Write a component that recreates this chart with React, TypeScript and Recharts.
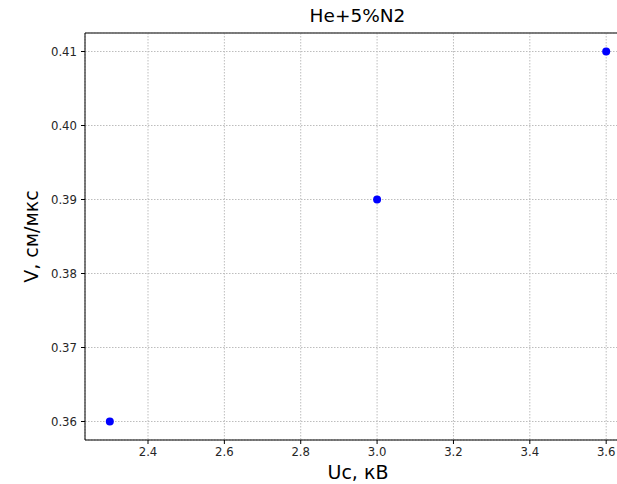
import { ScatterChart, Scatter, XAxis, YAxis, CartesianGrid, ReferenceLine } from "recharts"

const voltage = [2.3, 3.0, 3.6]
const velocity = [0.36, 0.39, 0.41]
const xTicks = [2.4, 2.6, 2.8, 3.0, 3.2, 3.4, 3.6]
const yTicks = [0.36, 0.37, 0.38, 0.39, 0.4, 0.41]

const points = voltage.map((u, i) => ({ u, v: velocity[i] }))

const font = "DejaVu Sans, sans-serif"
const tickStyle = { fontSize: 11.7, fill: "#262626", fontFamily: font }

export default function App() {
    return (
        <div style={{ position: "absolute", left: 0, top: 0, width: 617, height: 484, overflow: "hidden", background: "#fff" }}>
            <div
                style={{
                    position: "absolute",
                    top: 5,
                    left: 0,
                    width: 617,
                    textAlign: "center",
                    paddingLeft: 98,
                    boxSizing: "border-box",
                    fontFamily: font,
                    fontSize: 18.5,
                    color: "#000",
                    whiteSpace: "nowrap",
                }}
            >
                He+5%N2
            </div>
            <ScatterChart width={660} height={484} margin={{ top: 33, right: 29, bottom: 0, left: 0 }}>
                <CartesianGrid stroke="#bdbdbd" strokeDasharray="1.5 1.5" vertical horizontal />
                <XAxis
                    type="number"
                    dataKey="u"
                    domain={[2.235, 3.665]}
                    ticks={xTicks}
                    tickFormatter={(t: number) => t.toFixed(1)}
                    height={44}
                    tick={tickStyle}
                    tickSize={4}
                    tickMargin={4}
                    stroke="#000"
                    allowDataOverflow
                    label={{ value: "Uc, кВ", position: "insideBottom", offset: 5, style: { fontSize: 19, fill: "#000", fontFamily: font } }}
                />
                <YAxis
                    type="number"
                    dataKey="v"
                    domain={[0.3575, 0.4125]}
                    ticks={yTicks}
                    tickFormatter={(t: number) => t.toFixed(2)}
                    width={85}
                    tick={tickStyle}
                    tickSize={4}
                    tickMargin={4}
                    stroke="#000"
                    allowDataOverflow
                    label={{ value: "V, см/мкс", angle: -90, position: "insideLeft", offset: 31, style: { fontSize: 19, fill: "#000", fontFamily: font, textAnchor: "middle" } }}
                />
                <ReferenceLine y={0.4125} stroke="#555" strokeWidth={1.5} />
                <Scatter data={points} fill="#0000ff" isAnimationActive={false} shape={(p: any) => <circle cx={p.cx} cy={p.cy} r={4} fill="#0000ff" />} />
            </ScatterChart>
        </div>
    )
}
